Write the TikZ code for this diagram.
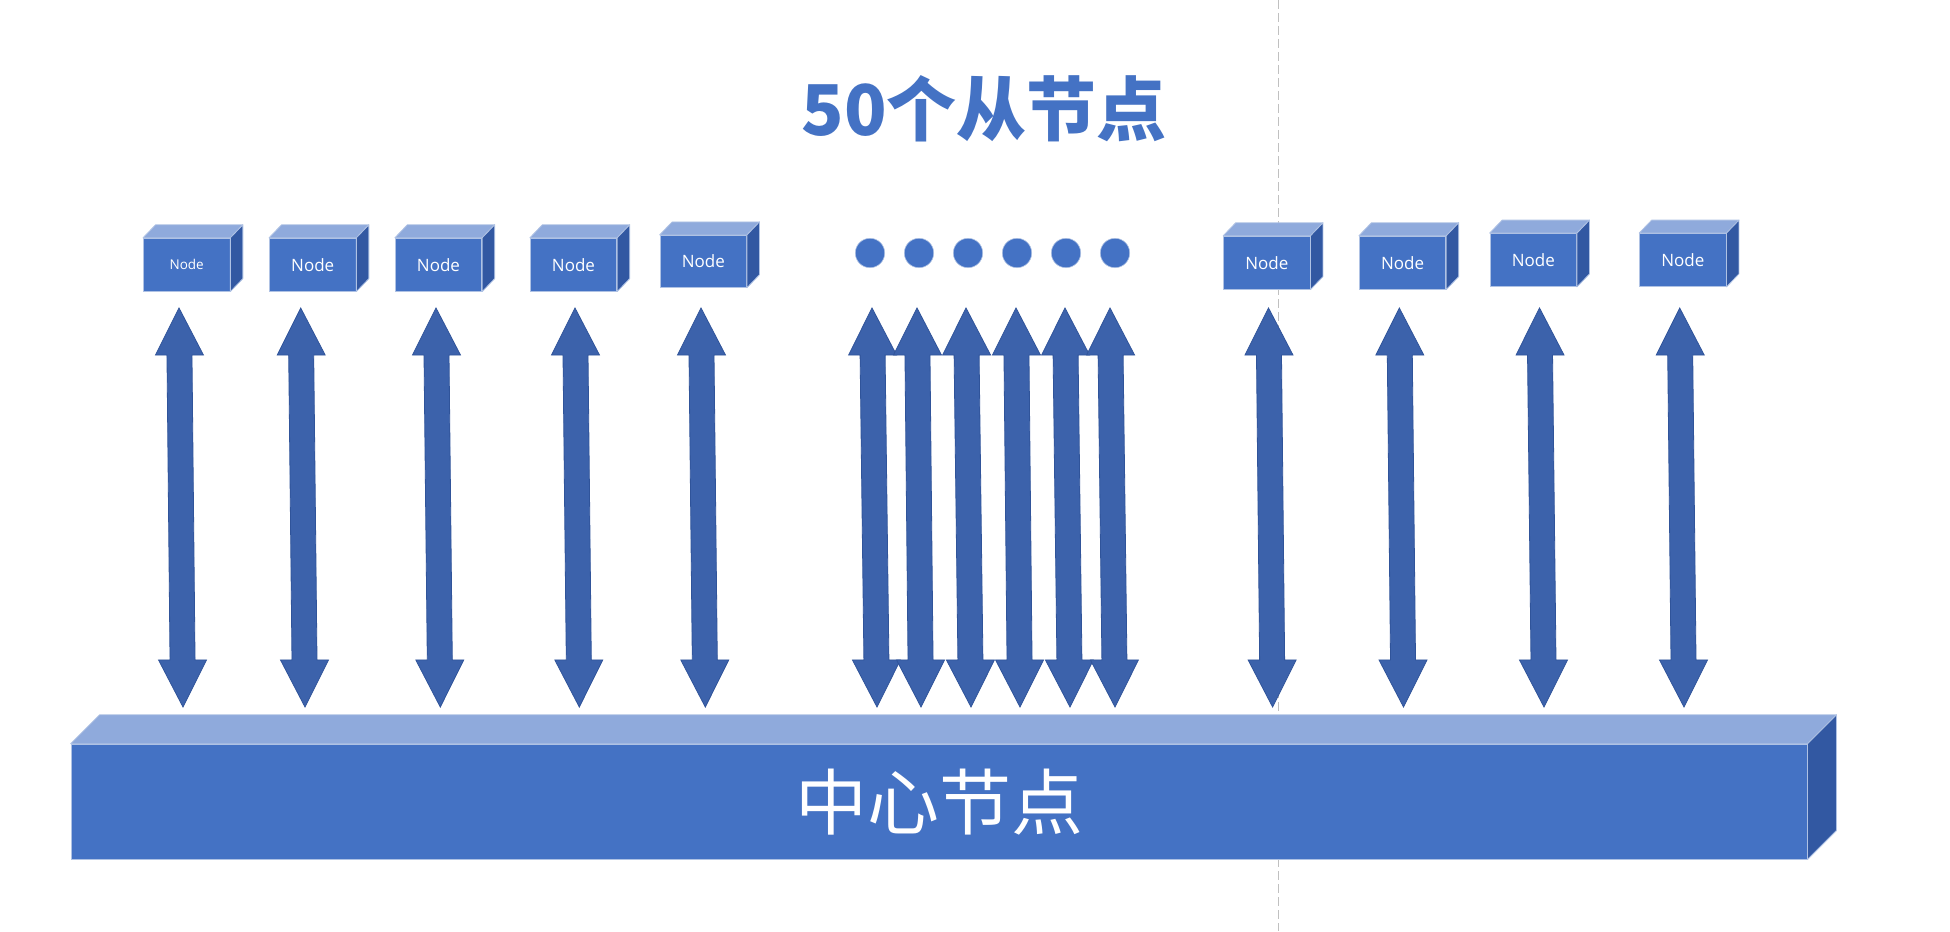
\documentclass[tikz,border=0pt]{standalone}
\usepackage{fontspec}
\setmainfont{Open Sans}
\newfontfamily\cjk{Noto Sans CJK SC}
\usetikzlibrary{calc}
\definecolor{frontblue}{HTML}{4472C4}
\definecolor{topblue}{HTML}{8FAADC}
\definecolor{sideblue}{HTML}{3258A2}
\definecolor{edgeblue}{HTML}{AFC2E4}
\definecolor{arrowfill}{HTML}{3C62AB}
\definecolor{arrowline}{HTML}{30549A}
\definecolor{dashgray}{HTML}{C0C0C0}
\tikzset{
  slavebox/.style={rectangle, fill=frontblue, draw=edgeblue, line width=0.8pt, inner sep=0pt,
    minimum width=86.5pt, minimum height=53pt, text=white, font=\fontsize{17}{20}\selectfont},
  hubbox/.style={rectangle, fill=frontblue, draw=edgeblue, line width=0.8pt, inner sep=0pt,
    minimum width=1736pt, minimum height=115pt, text=white, font=\cjk\fontsize{72}{80}\selectfont},
  topface/.style={fill=topblue, draw=edgeblue, line width=0.8pt, line join=round},
  sideface/.style={fill=sideblue, draw=edgeblue, line width=0.8pt, line join=round},
  dotnode/.style={circle, fill=frontblue, draw=edgeblue, line width=0.6pt, minimum size=29.4pt, inner sep=0pt},
  dblarrow/.style={fill=arrowfill, draw=arrowline, line width=0.8pt, line join=miter},
  divider/.style={draw=dashgray, line width=1pt, dash pattern=on 9pt off 4pt}
}
\newcommand\boxfaces[3]{%
  \path[topface] (#1.north west) -- ($(#1.north west)+(#2,-#3)$) -- ($(#1.north east)+(#2,-#3)$) -- (#1.north east) -- cycle;
  \path[sideface] (#1.north east) -- ($(#1.north east)+(#2,-#3)$) -- ($(#1.south east)+(#2,-#3)$) -- (#1.south east) -- cycle;
}
\newcommand\dblarrowdraw[2]{%
  \path[dblarrow] (#1)
    -- ($(#1)!0.118!(#2)+(24,0)$) -- ($(#1)!0.118!(#2)+(12.5,0)$)
    -- ($(#1)!0.882!(#2)+(12.5,0)$) -- ($(#1)!0.882!(#2)+(24,0)$)
    -- (#2)
    -- ($(#1)!0.882!(#2)+(-24,0)$) -- ($(#1)!0.882!(#2)+(-12.5,0)$)
    -- ($(#1)!0.118!(#2)+(-12.5,0)$) -- ($(#1)!0.118!(#2)+(-24,0)$) -- cycle;
}
\begin{document}
\begin{tikzpicture}[x=1pt,y=-1pt]
\useasboundingbox (0,0) rectangle (1950,931);
\fill[white] (0,0) rectangle (1950,931);
% divider
\coordinate (dtop) at (1278,0);
\coordinate (dbot) at (1278,931);
\draw[divider] (dtop) -- (dbot);
% title
\node[font=\cjk\bfseries\fontsize{70}{80}\selectfont, text=frontblue, inner sep=0pt] (title) at (984,109) {50个从节点};
% slave boxes
\node[slavebox, font=\fontsize{13.5}{16}\selectfont] (n1) at (186.7,264.7) {Node};
\node[slavebox] (n2) at (312.7,264.7) {Node};
\node[slavebox] (n3) at (438.5,264.7) {Node};
\node[slavebox] (n4) at (573.5,264.7) {Node};
\node[slavebox, minimum height=52pt] (n5) at (703.3,261.3) {Node};
\node[slavebox] (n6) at (1266.8,262.7) {Node};
\node[slavebox] (n7) at (1402.5,262.7) {Node};
\node[slavebox] (n8) at (1533.3,260) {Node};
\node[slavebox] (n9) at (1682.8,260) {Node};
\foreach \n in {n1,n2,n3,n4,n5,n6,n7,n8,n9} {\boxfaces{\n}{12.5}{13}}
% dots
\foreach \k/\x in {1/870,2/919,3/968,4/1017,5/1066,6/1115}
  {\node[dotnode] (d\k) at (\x,253) {};}
% central node
\node[hubbox] (hub) at (939,801.7) {中心节点};
\boxfaces{hub}{29}{29}
% arrows
\foreach \i/\t/\b in {1/179/183, 2/300.7/305, 3/436/440.3, 4/575/579.3, 5/701/705.3,
  m1/872/877, m2/917/921, m3/966/971, m4/1016/1020, m5/1065/1070, m6/1110/1115,
  6/1268.5/1272.6, 7/1399.3/1403.5, 8/1539.5/1544, 9/1679.7/1684}
{
  \coordinate (at\i) at (\t,308);
  \coordinate (ab\i) at (\b,707);
  \dblarrowdraw{at\i}{ab\i}
}
\end{tikzpicture}
\end{document}
